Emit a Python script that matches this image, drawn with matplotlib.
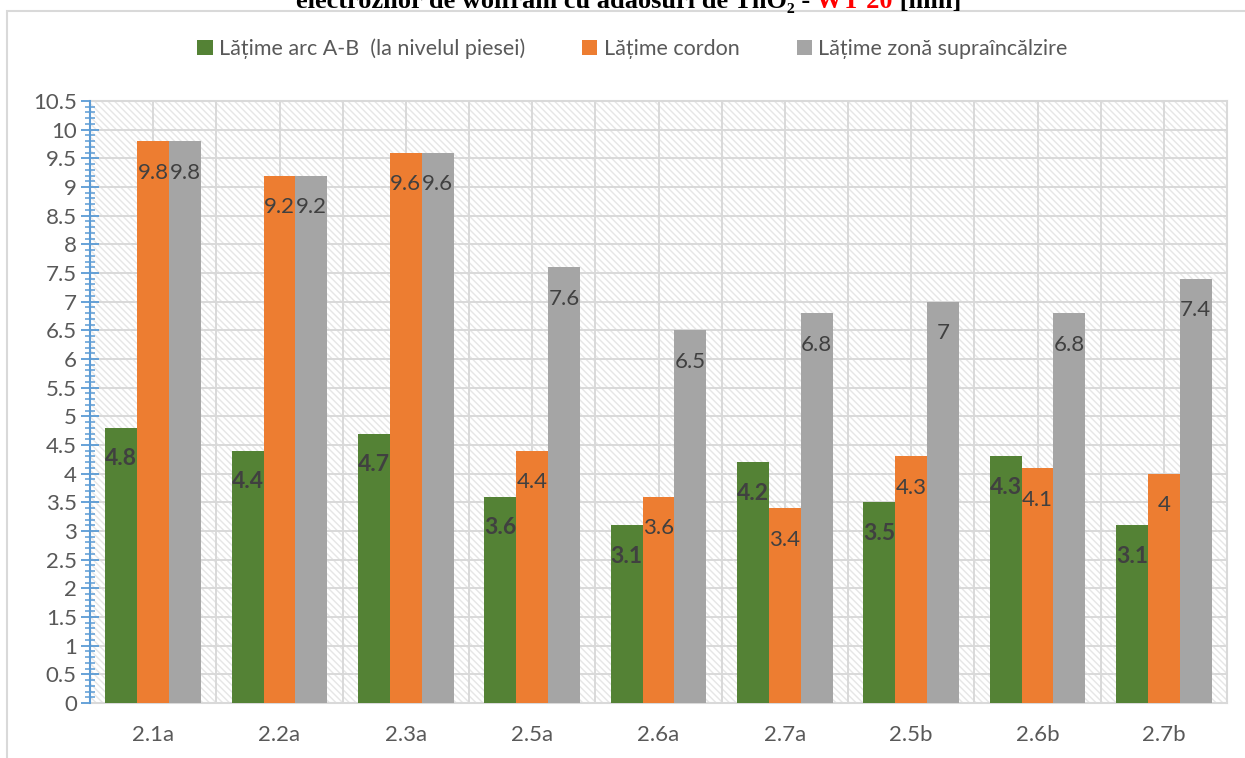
import numpy as np
import matplotlib.pyplot as plt
from matplotlib.patches import Rectangle
from matplotlib.ticker import MultipleLocator

plt.rcParams['font.family'] = ['Lato', 'DejaVu Sans']

probe = ['2.1a', '2.2a', '2.3a', '2.5a', '2.6a', '2.7a', '2.5b', '2.6b', '2.7b']
arc_ab = [4.8, 4.4, 4.7, 3.6, 3.1, 4.2, 3.5, 4.3, 3.1]
cordon = [9.8, 9.2, 9.6, 4.4, 3.6, 3.4, 4.3, 4.1, 4.0]
zona = [9.8, 9.2, 9.6, 7.6, 6.5, 6.8, 7.0, 6.8, 7.4]

series_names = ['Lățime arc A-B  (la nivelul piesei)', 'Lățime cordon',
                'Lățime zonă supraîncălzire']
colors = ['#548235', '#ED7D31', '#A5A5A5']

fig = plt.figure(figsize=(12.45, 7.58), dpi=100)
W, H = 1245, 758

# chart frame (top and left edges visible)
fig.patches.append(Rectangle((7 / W, -0.1), 1.2, 1 - 11 / H + 0.1,
                             transform=fig.transFigure, facecolor='none',
                             edgecolor='#d9d9d9', linewidth=1.5))

ax = fig.add_axes([90 / W, 55 / H, (1227 - 90) / W, (703 - 101) / H])
ax.set_facecolor('white')
ax.add_patch(Rectangle((0, 0), 1, 1, transform=ax.transAxes, facecolor='white',
                       edgecolor='#e6e6e6', hatch='\\\\\\\\\\', linewidth=0, zorder=0))

x = np.arange(len(probe))
bw = 0.253
values = [arc_ab, cordon, zona]
for i, (vals, c, name) in enumerate(zip(values, colors, series_names)):
    bars = ax.bar(x + (i - 1) * bw, vals, width=bw, color=c, label=name, zorder=3)
    ax.bar_label(bars, labels=['%g' % v for v in vals], padding=-30,
                 fontsize=16.5 if i == 0 else 16, color='#404040',
                 fontweight='bold' if i == 0 else 'normal', zorder=4)

ax.set_xlim(-0.5, len(probe) - 0.5)
ax.set_ylim(0, 10.5)

# grid: horizontal every 0.5, vertical every half category
for yv in np.arange(0.5, 10.51, 0.5):
    ax.axhline(yv, color='#d9d9d9', lw=1.4, zorder=1)
for xv in np.arange(-0.5, len(probe) - 0.4, 0.5):
    ax.axvline(xv, color='#d9d9d9', lw=1.4, zorder=1)

ax.yaxis.set_major_locator(MultipleLocator(0.5))
ax.yaxis.set_minor_locator(MultipleLocator(0.1))
ax.yaxis.set_major_formatter(lambda v, p: '%g' % v)
ax.tick_params(axis='y', which='major', direction='inout', length=13, width=1.3,
               color='#5B9BD5', labelsize=16, labelcolor='#595959', pad=3)
ax.tick_params(axis='y', which='minor', direction='inout', length=7, width=1.1,
               color='#5B9BD5')
ax.set_xticks(x)
ax.set_xticklabels(probe)
ax.tick_params(axis='x', length=0, labelsize=16, labelcolor='#595959', pad=16)

ax.spines['left'].set_color('#5B9BD5')
ax.spines['left'].set_linewidth(1.5)
ax.spines['left'].set_zorder(5)
for s in ['bottom', 'right', 'top']:
    ax.spines[s].set_color('#d9d9d9')
    ax.spines[s].set_linewidth(1.5)

fig.legend(loc='center', bbox_to_anchor=(0.5 + 10 / W, 1 - 49 / H), ncol=3,
           frameon=False, fontsize=15.5, handlelength=0.7, handleheight=0.7,
           handletextpad=0.3, columnspacing=2.65, labelcolor='#595959')

# title, mostly above the top of the image
parts = [('electrozilor de wolfram cu adaosuri de ThO₂ - ', 'black'),
         ('WT 20', 'red'), (' [mm]', 'black')]
renderer = fig.canvas.get_renderer()
texts = []
for s, c in parts:
    t = fig.text(0, 1 - 8 / H, s, fontsize=19, fontweight='bold', color=c,
                 family=['Liberation Serif', 'DejaVu Serif'], va='baseline', ha='left')
    texts.append(t)
widths = [t.get_window_extent(renderer).width for t in texts]
x0 = 0.5 * (W - sum(widths)) + 6
for t, w in zip(texts, widths):
    t.set_x(x0 / W)
    x0 += w

fig.savefig('out.png', dpi=100)
